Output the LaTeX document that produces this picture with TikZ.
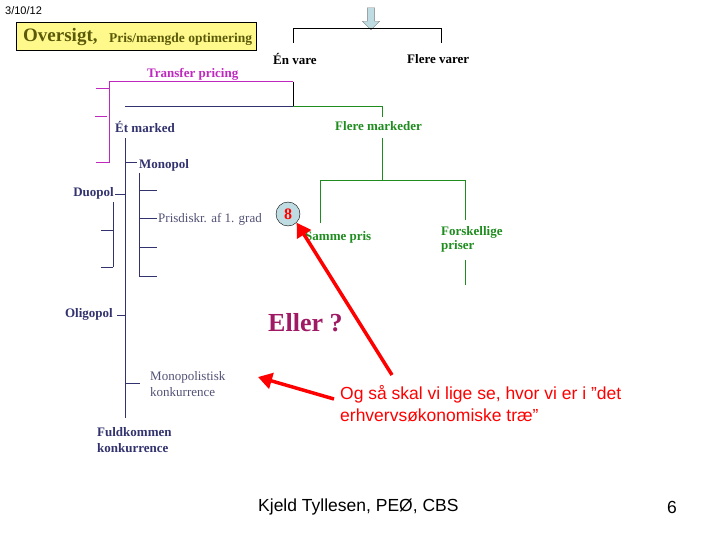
\documentclass[tikz,border=0pt]{standalone}
\usepackage{fontspec}
\setmainfont{Liberation Serif}
\newfontfamily\arialf{Liberation Sans}
\usetikzlibrary{arrows.meta,shapes.arrows}
\definecolor{navy}{RGB}{50,50,110}
\definecolor{grn}{RGB}{30,140,30}
\definecolor{mag}{RGB}{190,40,190}
\definecolor{olive}{RGB}{90,90,10}
\definecolor{eller}{RGB}{160,25,100}
\definecolor{lblue}{RGB}{190,220,225}
\begin{document}
\begin{tikzpicture}[x=1pt,y=-1pt,
  lbl/.style={inner sep=0pt,anchor=west,font=\bfseries\fontsize{13}{14}\selectfont},
  nav/.style={draw=navy,line width=1pt},
  gr/.style={draw=grn,line width=1pt},
  mg/.style={draw=mag,line width=1pt},
  redarr/.style={draw=red,line width=3.5pt,-{Triangle[length=14pt,width=16pt]}}]
\useasboundingbox (0,0) rectangle (720,540);
\node[anchor=west,inner sep=0pt,font=\arialf\fontsize{11}{12}\selectfont] (date) at (5,11) {3/10/12};
\node[draw=black,fill=yellow!45,minimum width=240pt,minimum height=28pt,anchor=north west,inner sep=0pt] (box) at (16,22) {};
\node[anchor=west,inner sep=0pt,text=olive,font=\bfseries\fontsize{19}{20}\selectfont] (ov) at (23,37) {Oversigt,};
\node[anchor=west,inner sep=0pt,text=olive,font=\bfseries\fontsize{13.5}{14}\selectfont] (pm) at (109,39) {Pris/mængde optimering};
\node[single arrow,shape border rotate=270,draw=gray,fill=lblue,minimum height=22pt,minimum width=17pt,single arrow head extend=3pt,inner sep=2pt] (top) at (371,17) {};
% black
\draw[line width=1pt] (293,43) |- (441,29) -- (441,43);
\node[lbl] (en) at (273,59) {Én vare};
\node[lbl] (fv) at (407,59) {Flere varer};
\draw[line width=1pt] (293,82) -- (293,107);
% magenta
\node[lbl,text=mag] (tp) at (147,74) {Transfer pricing};
\draw[mg] (293,82) -- (109,82) -- (109,163);
\draw[mg] (96,89) -- (109,89);
\draw[mg] (95,117) -- (107,117);
\draw[mg] (96,163) -- (109,163);
% top split
\draw[nav] (125,107) -- (293,107);
\draw[gr] (293,107) -- (382,107) -- (382,117);
\node[lbl,text=navy] (et) at (115,127) {Ét marked};
\node[lbl,text=grn] (fm) at (335,126) {Flere markeder};
% green
\draw[gr] (382,138) -- (382,181);
\draw[gr] (320,223) |- (465,181) -- (465,220);
\draw[gr] (465,260) -- (465,285);
\node[lbl,text=grn] (sp) at (305,237) {Samme pris};
\node[lbl,text=grn,align=left] (fp) at (441,239) {Forskellige\\priser};
% navy tree
\draw[nav] (125,138) -- (125,418);
\draw[nav] (125,163) -- (137,163);
\node[lbl,text=navy] (mono) at (139,165) {Monopol};
\draw[nav] (115,195) -- (125,195);
\node[lbl,text=navy,anchor=east] (duo) at (114,193) {Duopol};
\draw[nav] (139,173) -- (139,276);
\foreach \y in {191,219,247,276} \draw[nav] (139,\y) -- (157,\y);
\draw[nav] (113,202) -- (113,267);
\draw[nav] (101,231) -- (113,231);
\draw[nav] (101,267) -- (113,267);
\draw[nav] (117,315) -- (125,315);
\node[lbl,text=navy,anchor=east] (oli) at (113,314) {Oligopol};
\draw[nav] (125,383) -- (140,383);
\node[anchor=west,inner sep=0pt,text=navy!60!gray,align=left,font=\fontsize{13}{16}\selectfont] (mk) at (150,384) {Monopolistisk\\konkurrence};
\node[lbl,text=navy,align=left,font=\bfseries\fontsize{13}{16}\selectfont] (fk) at (97,440) {Fuldkommen\\konkurrence};
\node[anchor=west,inner sep=0pt,text=navy!60!gray,font=\fontsize{13}{14}\selectfont] (pd) at (158,219) {Prisdiskr. af 1. grad};
\node[circle,draw=black,fill=lblue,minimum size=24pt,inner sep=0pt,text=red,font=\bfseries\fontsize{16}{16}\selectfont] (eight) at (288,214) {8};
\node[anchor=west,inner sep=0pt,text=eller,font=\bfseries\fontsize{26}{28}\selectfont] (el) at (268,323) {Eller ?};
\node[anchor=west,inner sep=0pt,text=red,align=left,font=\arialf\fontsize{17.5}{22}\selectfont] (og) at (340,404) {Og så skal vi lige se, hvor vi er i ”det\\erhvervsøkonomiske træ”};
\coordinate (a1) at (392,375);
\coordinate (a2) at (334,399);
\coordinate (t2) at (258,377);
\draw[redarr] (a1) -- (eight.south east);
\draw[redarr] (a2) -- (t2);
\node[anchor=west,inner sep=0pt,font=\arialf\fontsize{17.5}{20}\selectfont] (kj) at (258,507) {Kjeld Tyllesen, PEØ, CBS};
\node[anchor=west,inner sep=0pt,font=\arialf\fontsize{17.5}{20}\selectfont] (pg) at (667,507) {6};
\end{tikzpicture}
\end{document}
